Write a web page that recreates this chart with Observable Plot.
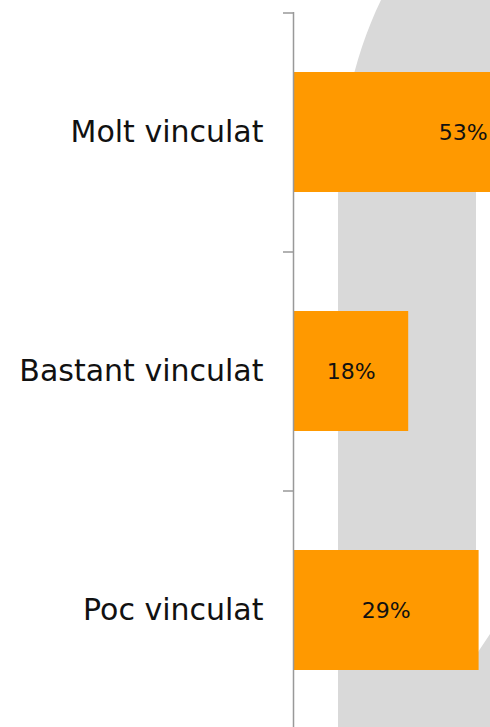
<!DOCTYPE html>
<html>
<head>
<meta charset="utf-8">
<script src="https://cdn.jsdelivr.net/npm/d3@7"></script>
<script src="https://cdn.jsdelivr.net/npm/@observablehq/plot@0.6"></script>
<style>
  html, body { margin: 0; padding: 0; background: #fff; }
  #wrap { position: relative; width: 490px; height: 727px; overflow: hidden; }
  #deco { position: absolute; left: 0; top: 0; }
  #chart { position: absolute; left: 0; top: 0; width: 700px; }
  #chart svg { max-width: none !important; }
</style>
</head>
<body>
<div id="wrap">
  <svg id="deco" width="490" height="727">
    <path d="M338,727 L338,205 C338,130 352,60 381,0 L490,0 L490,190 L476,190 L476,655 L490,634 L490,727 Z" fill="#d9d9d9"/>
  </svg>
  <div id="chart"></div>
</div>
<script>
const categories = ["Molt vinculat", "Bastant vinculat", "Poc vinculat"];
const values = [53, 18, 29];
const valueLabels = ["53%", "18%", "29%"];

const data = categories.map((c, i) => ({category: c, value: values[i], label: valueLabels[i]}));

const W = 700, H = 727, ML = 293;
const pxPerUnit = 6.4;
const xMax = (W - ML) / pxPerUnit;
const step = (H - 12 + 2) / 3;
const tickLen = 10 / pxPerUnit;

const chart = Plot.plot({
  width: W,
  height: H,
  marginLeft: ML,
  marginRight: 0,
  marginTop: 12,
  marginBottom: -2,
  style: {background: "transparent", fontFamily: "'DejaVu Sans', sans-serif", color: "#111", maxWidth: "none"},
  x: {domain: [0, xMax], axis: null},
  y: {domain: categories, paddingInner: 0.5, paddingOuter: 0.25},
  marks: [
    Plot.barX(data, {y: "category", x: "value", fill: "#FF9900"}),
    Plot.text(data, {y: "category", x: d => d.value / 2, text: "label", fontSize: 22, fill: "#111"}),
    Plot.ruleX([0], {stroke: "#999", strokeWidth: 1.5}),
    Plot.ruleY(categories, {y: d => d, dy: -step / 2, x1: -tickLen, x2: 0, stroke: "#999", strokeWidth: 1.5}),
    Plot.axisY({tickSize: 0, tickPadding: 30, fontSize: 30, label: null})
  ]
});
chart.style.maxWidth = "none";
document.getElementById("chart").appendChild(chart);
</script>
</body>
</html>
